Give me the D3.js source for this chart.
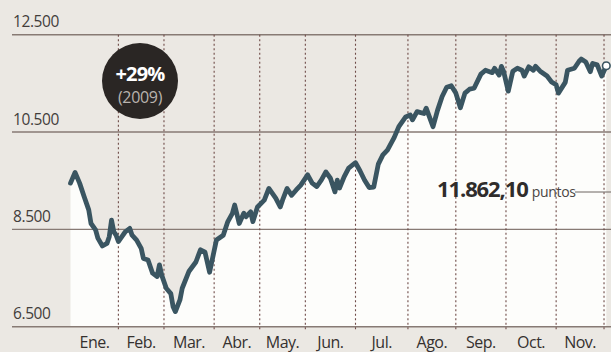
<!DOCTYPE html>
<html>
<head>
<meta charset="utf-8">
<script src="https://cdn.jsdelivr.net/npm/d3@7"></script>
<style>
  html, body { margin: 0; padding: 0; background: #ece9e4; }
  svg { display: block; }
</style>
</head>
<body>
<svg id="chart" width="611" height="352"></svg>
<script>
// ---- Data (IBEX 35, 2009; x = trading-day index from 2 Jan) ----
const dayIndex = [0,2,4,6,8,9,11,12,14,16,17,18,19,20,21,23,24,26,27,29,
  31,32,34,36,38,39,40,42,44,45,46,48,49,52,55,57,59,61,64,67,
  69,71,72,74,76,77,79,80,82,85,87,90,92,93,95,97,99,101,104,106,
  108,110,112,114,116,117,118,120,122,125,127,129,131,133,135,137,139,142,144,147,
  149,150,152,155,156,159,161,163,165,167,169,171,173,175,177,180,182,185,186,188,
  189,190,192,194,196,198,199,201,203,204,206,209,211,213,214,217,218,221,223,224,
  226,228,229,231,233,235];
const closeValues = [9450,9670,9450,9170,8900,8620,8490,8320,8160,8210,
  8350,8690,8450,8380,8250,8380,8450,8520,8380,8280,
  8110,7900,7870,7600,7530,7770,7560,7290,7180,6910,
  6810,7050,7290,7640,7830,8080,8030,7620,8280,8380,
  8660,8830,9000,8620,8830,8760,8860,8660,8960,9100,
  9340,9140,8960,9100,9340,9200,9310,9410,9620,9450,
  9380,9510,9680,9550,9270,9510,9350,9580,9760,9870,
  9700,9510,9360,9370,9840,10030,10130,10390,10610,10810,
  10850,10750,10920,10880,10990,10610,10950,11230,11420,11450,
  11300,11000,11300,11380,11400,11690,11770,11720,11810,11670,
  11850,11740,11340,11750,11810,11770,11650,11840,11770,11850,
  11750,11650,11530,11470,11300,11520,11770,11810,11950,12000,
  11940,11740,11910,11880,11650,11862.10];
const monthLabels = ["Ene.","Feb.","Mar.","Abr.","May.","Jun.","Jul.","Ago.","Sep.","Oct.","Nov."];
const monthStarts = [0,21,41,63,83,103,125,148,169,191,213,234];
const yTicks = [6500, 8500, 10500, 12500];
const badgeMain = "+29%";
const badgeSub = "(2009)";
const unitLabel = "puntos";

// ---- Setup ----
const svg = d3.select("#chart");
const W = 611, H = 352;
const locale = d3.formatLocale({decimal: ",", thousands: ".", grouping: [3], currency: ["", " €"]});
const fmtInt = locale.format(",d");
const fmtDec = locale.format(",.2f");

const x = d3.scaleLinear().domain([0, 235]).range([70.5, 606.3]);
const y = d3.scaleLinear().domain([6500, 12500]).range([326.7, 34.7]);

const data = dayIndex.map((d, i) => ({i: d, v: closeValues[i]}));

svg.append("rect").attr("width", W).attr("height", H).attr("fill", "#ebe8e3");

// white area under the line
const area = d3.area().x(d => x(d.i)).y0(y(6500)).y1(d => y(d.v));
svg.append("path").datum(data).attr("d", area).attr("fill", "#fdfdfb");

// horizontal gridlines
svg.append("g").selectAll("line").data(yTicks).join("line")
  .attr("x1", 12).attr("x2", W)
  .attr("y1", d => y(d)).attr("y2", d => y(d))
  .attr("stroke", "#877a74").attr("stroke-width", 1.4);

// y labels
svg.append("g").selectAll("text").data(yTicks).join("text")
  .attr("x", 13).attr("y", d => y(d) - 7.5)
  .attr("font-family", "'Open Sans', sans-serif").attr("font-size", 15.5)
  .attr("letter-spacing", -0.4)
  .attr("fill", "#423d3b").text(d => fmtInt(d));

// vertical dotted month separators
svg.append("g").selectAll("line").data(monthStarts.slice(1)).join("line")
  .attr("x1", d => x(d)).attr("x2", d => x(d))
  .attr("y1", y(12500)).attr("y2", y(6500) + 3)
  .attr("stroke", "#6e4a47").attr("stroke-width", 1.1)
  .attr("stroke-dasharray", "2,2.5");

// month labels
svg.append("g").selectAll("text").data(monthLabels).join("text")
  .attr("x", (d, i) => (x(monthStarts[i]) + x(monthStarts[i + 1])) / 2)
  .attr("y", 347.5)
  .attr("text-anchor", "middle")
  .attr("font-family", "'Open Sans', sans-serif").attr("font-size", 16)
  .attr("letter-spacing", -0.5)
  .attr("fill", "#35312f").text(d => d);

// the index line
const line = d3.line().x(d => x(d.i)).y(d => y(d.v)).curve(d3.curveLinear);
svg.append("path").datum(data).attr("d", line)
  .attr("fill", "none").attr("stroke", "#3a5561").attr("stroke-width", 4.8)
  .attr("stroke-linejoin", "round").attr("stroke-linecap", "round");

// end marker
const last = data[data.length - 1];
svg.append("circle").attr("cx", x(last.i)).attr("cy", y(last.v)).attr("r", 3.8)
  .attr("fill", "#ffffff").attr("stroke", "#3a5561").attr("stroke-width", 1.6);

// last value annotation
svg.append("line").attr("x1", 575).attr("x2", W).attr("y1", 192).attr("y2", 192)
  .attr("stroke", "#6d6461").attr("stroke-width", 1);
const ann = svg.append("text").attr("x", 437).attr("y", 197)
  .attr("font-family", "'Open Sans', sans-serif").attr("fill", "#2f2c2b");
ann.append("tspan").attr("font-size", 22).attr("font-weight", 700).attr("letter-spacing", -1.1)
  .text(fmtDec(last.v));
ann.append("tspan").attr("dx", 4).attr("font-size", 14).attr("font-weight", 400).attr("letter-spacing", -0.3)
  .attr("fill", "#4a4543").text(unitLabel);

// +29% badge
svg.append("circle").attr("cx", 140).attr("cy", 81).attr("r", 38).attr("fill", "#2a2624");
svg.append("text").attr("x", 140).attr("y", 81).attr("text-anchor", "middle")
  .attr("font-family", "'Open Sans', sans-serif").attr("font-size", 20).attr("font-weight", 700)
  .attr("letter-spacing", -0.8).attr("fill", "#ffffff").text(badgeMain);
svg.append("text").attr("x", 140).attr("y", 103).attr("text-anchor", "middle")
  .attr("font-family", "'Open Sans', sans-serif").attr("font-size", 16)
  .attr("letter-spacing", -0.3).attr("fill", "#b9b3ae").text(badgeSub);
</script>
</body>
</html>
